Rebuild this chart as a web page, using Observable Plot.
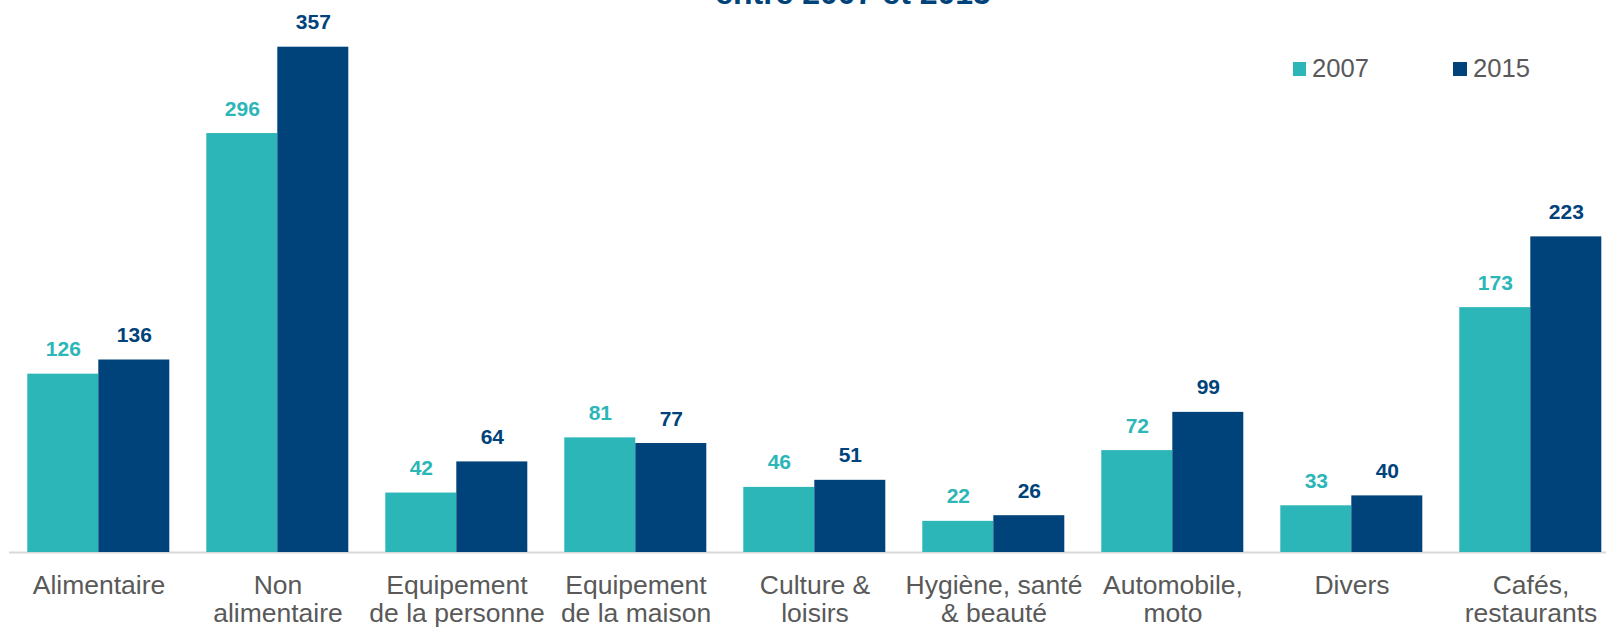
<!DOCTYPE html>
<html><head><meta charset="utf-8">
<script src="https://cdn.jsdelivr.net/npm/d3@7"></script>
<script src="https://cdn.jsdelivr.net/npm/@observablehq/plot@0.6"></script>
<style>
html,body{margin:0;padding:0;background:#fff;overflow:hidden;width:1606px;height:627px}
#wrap{position:relative;width:1606px;height:627px;overflow:hidden;font-family:"Liberation Sans",Arial,sans-serif}
#title{position:absolute;left:553px;width:600px;top:-23px;text-align:center;font-size:32px;line-height:32px;font-weight:bold;color:#00437a;white-space:nowrap}
.sw{position:absolute;width:13.5px;height:13.5px;top:62.3px}
.lt{position:absolute;top:54.8px;font-size:25.6px;line-height:26px;color:#595959}
#chart{position:absolute;left:0;top:0;width:1622px}
#chart svg{max-width:none !important;width:1622px;height:627px}
</style>
</head><body>
<div id="wrap">
  <div id="chart"></div>
  <div id="title">entre 2007 et 2015</div>
  <div id="legend"></div>
</div>
<script>
const categories = ["Alimentaire", "Non\nalimentaire", "Equipement\nde la personne", "Equipement\nde la maison", "Culture &\nloisirs", "Hygiène, santé\n& beauté", "Automobile,\nmoto", "Divers", "Cafés,\nrestaurants"];
const years = ["2007", "2015"];
const values2007 = [126, 296, 42, 81, 46, 22, 72, 33, 173];
const values2015 = [136, 357, 64, 77, 51, 26, 99, 40, 223];
const colors = ["#2cb6b8", "#00437a"];

const rows = categories.flatMap((c, i) => [
  {cat: c, year: years[0], value: values2007[i]},
  {cat: c, year: years[1], value: values2015[i]}
]);

const chart = Plot.plot({
  width: 1622,
  height: 627,
  marginLeft: 7.7,
  marginRight: 0,
  marginTop: 0,
  marginBottom: 75,
  style: {fontFamily: "'Liberation Sans', Arial, sans-serif", background: "transparent", overflow: "visible", maxWidth: "none"},
  fx: {domain: categories, paddingInner: 0.2, paddingOuter: 0.1, axis: null, label: null},
  x: {domain: years, padding: 0, axis: null, label: null},
  y: {domain: [0, 390], axis: null},
  color: {domain: years, range: colors},
  marks: [
    Plot.ruleY([0], {stroke: "#d9d9d9", strokeWidth: 2, insetLeft: -18, insetRight: -18}),
    Plot.barY(rows, {fx: "cat", x: "year", y: "value", fill: "year"}),
    Plot.text(rows, {fx: "cat", x: "year", y: "value", text: d => String(d.value), fill: "year",
      fontWeight: "bold", fontSize: 21, lineAnchor: "bottom", dy: -18}),
    Plot.text(categories, {fx: d => d, text: d => d, frameAnchor: "bottom", lineAnchor: "top",
      dy: 21.5, fontSize: 26.5, lineHeight: 1.07, fill: "#595959"})
  ]
});
document.getElementById("chart").appendChild(chart);

const legend = document.getElementById("legend");
const legendPos = [[1292.7, 1312], [1453, 1473]];
years.forEach((y, i) => {
  const sw = document.createElement("div");
  sw.className = "sw";
  sw.style.left = legendPos[i][0] + "px";
  sw.style.background = colors[i];
  legend.appendChild(sw);
  const t = document.createElement("div");
  t.className = "lt";
  t.style.left = legendPos[i][1] + "px";
  t.textContent = y;
  legend.appendChild(t);
});
</script>
</body></html>
